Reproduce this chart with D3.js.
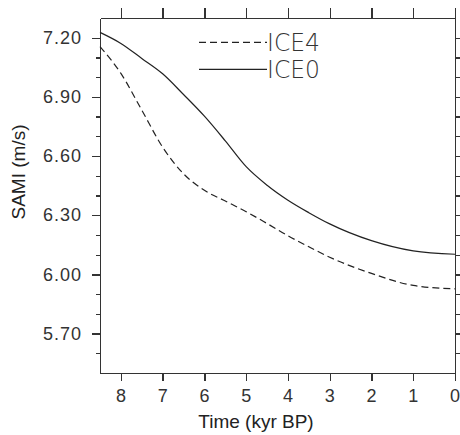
<!DOCTYPE html>
<meta charset="utf-8">
<style>
body { margin: 0; background: #fff; }
.axis path, .axis line { fill: none; stroke: #333; stroke-width: 1.3; shape-rendering: crispEdges; }
.axis text { font: 18px "Liberation Sans", Arial, sans-serif; fill: #333; letter-spacing: 1px; }
.title { font: 19px "Liberation Sans", Arial, sans-serif; fill: #222; }
.legend { font-family: "DejaVu Sans", sans-serif; font-weight: 200; font-size: 25px; fill: #333; }
</style>
<svg width="460" height="435"></svg>
<script src="https://d3js.org/d3.v7.min.js"></script>
<script>

// kyr BP
var time = [8.5, 8, 7.5, 7, 6.5, 6, 5.5, 5, 4.5, 4, 3.5, 3, 2, 1, 0];
var ice0 = [7.227, 7.171, 7.095, 7.017, 6.912, 6.802, 6.677, 6.546, 6.452, 6.376, 6.313, 6.256, 6.171, 6.119, 6.102];
var ice4 = [7.155, 7.019, 6.833, 6.645, 6.51, 6.426, 6.372, 6.318, 6.258, 6.196, 6.14, 6.087, 6.005, 5.944, 5.927];

var seriesNames = ["ICE4", "ICE0"];
var xTicks = [8, 7, 6, 5, 4, 3, 2, 1, 0];
var yMajor = [5.7, 6.0, 6.3, 6.6, 6.9, 7.2];
var yMinor = [5.6, 5.8, 5.9, 6.1, 6.2, 6.4, 6.5, 6.7, 6.8, 7.0, 7.1];

var svg = d3.select("svg"),
    margin = {top: 18, right: 5, bottom: 62, left: 100},
    width = 355,
    height = 355;

var x = d3.scaleLinear().domain([8.5, 0]).range([0, width]);
var y = d3.scaleLinear().domain([5.5, 7.3]).range([height, 0]);

var g = svg.append("g")
    .attr("transform", "translate(" + margin.left + "," + margin.top + ")");

// minor ticks
g.append("g").attr("class", "axis")
    .call(d3.axisLeft(y).tickValues(yMinor).tickSize(4).tickFormat(""))
    .select(".domain").remove();
g.append("g").attr("class", "axis")
    .attr("transform", "translate(" + width + ",0)")
    .call(d3.axisRight(y).tickValues(yMinor).tickSize(5).tickFormat(""))
    .select(".domain").remove();

g.append("g").attr("class", "axis")
    .call(d3.axisLeft(y).tickValues(yMajor).tickSize(8).tickSizeOuter(0).tickPadding(10).tickFormat(d3.format(".2f")));
g.append("g").attr("class", "axis")
    .attr("transform", "translate(" + width + ",0)")
    .call(d3.axisRight(y).tickValues(yMajor).tickSize(8).tickSizeOuter(0).tickFormat(""));
g.append("g").attr("class", "axis")
    .attr("transform", "translate(0," + height + ")")
    .call(d3.axisBottom(x).tickValues(xTicks).tickSize(8).tickSizeOuter(0).tickPadding(8).tickFormat(d3.format("d")));
g.append("g").attr("class", "axis")
    .call(d3.axisTop(x).tickValues(xTicks).tickSize(10).tickSizeOuter(0).tickFormat(""));

var line = d3.line()
    .x(function(d) { return x(d[0]); })
    .y(function(d) { return y(d[1]); })
    .curve(d3.curveMonotoneX);

var series = [
  {name: seriesNames[0], values: d3.zip(time, ice4), dash: "7,4"},
  {name: seriesNames[1], values: d3.zip(time, ice0), dash: null}
];

g.selectAll(".curve").data(series).enter().append("path")
    .attr("class", "curve")
    .attr("d", function(d) { return line(d.values); })
    .attr("fill", "none")
    .attr("stroke", "#222")
    .attr("stroke-width", 1.2)
    .attr("stroke-dasharray", function(d) { return d.dash; });

// legend
var leg = g.selectAll(".leg").data(series).enter().append("g")
    .attr("class", "leg")
    .attr("transform", function(d, i) { return "translate(99," + (24.3 + i * 27) + ")"; });
leg.append("line")
    .attr("x1", 0).attr("x2", 68)
    .attr("stroke", "#222").attr("stroke-width", 1.2)
    .attr("stroke-dasharray", function(d) { return d.dash; });
leg.append("text")
    .attr("class", "legend")
    .attr("x", 68).attr("y", 9)
    .attr("textLength", 53).attr("lengthAdjust", "spacingAndGlyphs")
    .text(function(d) { return d.name; });

svg.append("text").attr("class", "title")
    .attr("x", 256).attr("y", 428)
    .attr("text-anchor", "middle")
    .text("Time (kyr BP)");
svg.append("text").attr("class", "title")
    .attr("transform", "translate(25,172) rotate(-90)")
    .attr("text-anchor", "middle")
    .text("SAMI (m/s)");

</script>
